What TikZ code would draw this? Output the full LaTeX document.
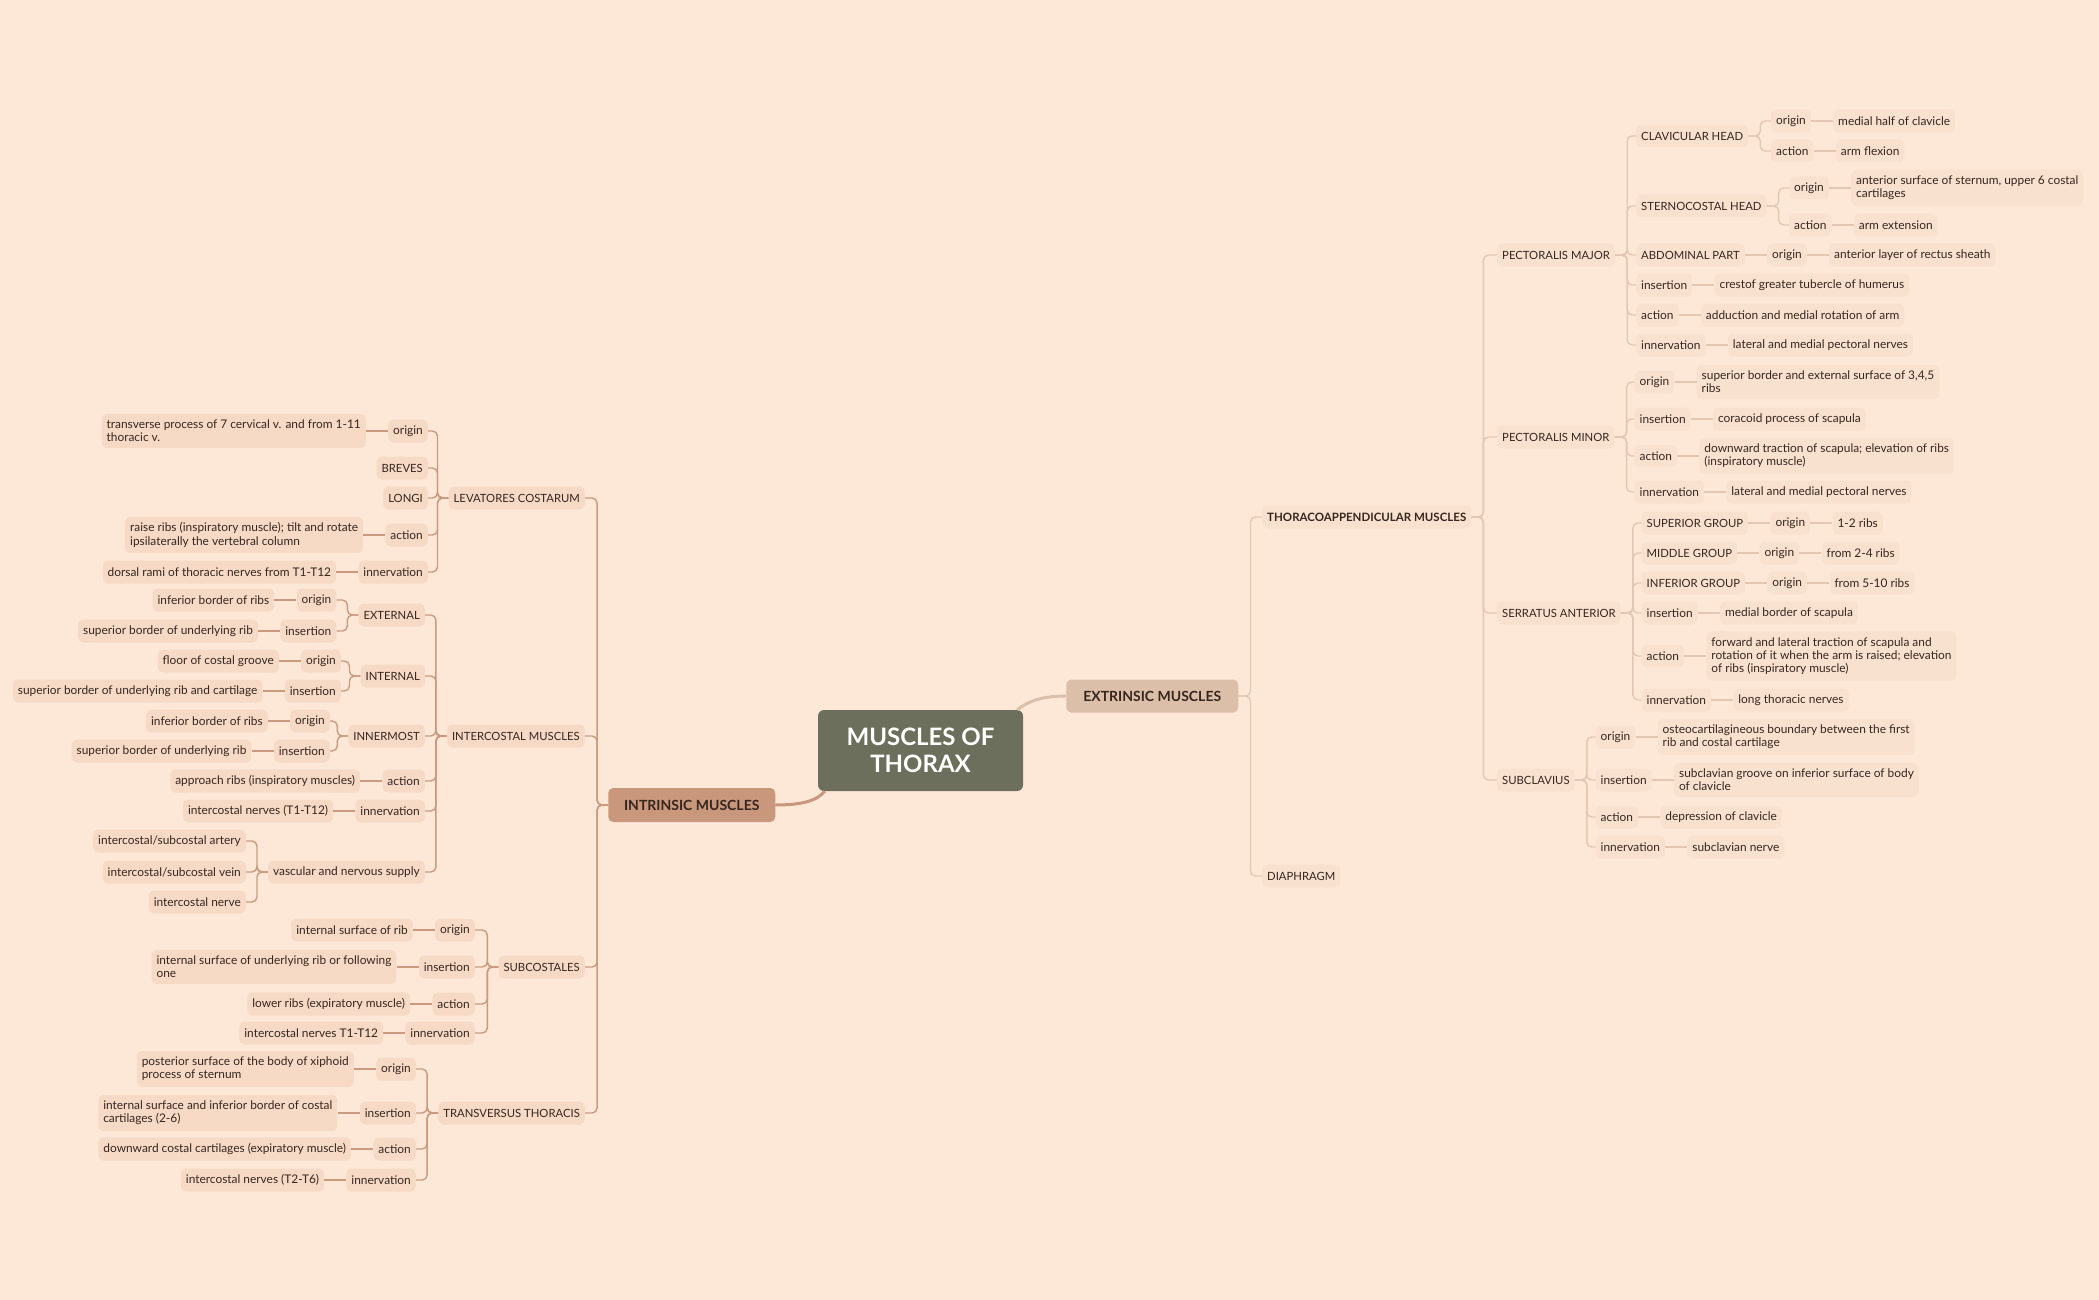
\documentclass[tikz,border=0pt]{standalone}
\usepackage{fontspec}
\setmainfont{Lato}
\usetikzlibrary{positioning}

\definecolor{bgpeach}{HTML}{FDE8D8}
\definecolor{lfill}{HTML}{F6DAC6}
\definecolor{rfill}{HTML}{F9E1D0}
\definecolor{lline}{HTML}{C99A7E}
\definecolor{rline}{HTML}{E3C7B3}
\definecolor{txt}{HTML}{36261E}
\definecolor{rootgreen}{HTML}{6B6F5B}
\definecolor{intrfill}{HTML}{C9987C}
\definecolor{extrfill}{HTML}{DCBFA9}

\tikzset{
  mmbox/.style={rounded corners=5pt, inner xsep=5pt, inner ysep=6pt, minimum height=23pt,
    align=left, text=txt, font=\fontsize{11.9}{13.2}\selectfont},
  lbox/.style={mmbox, fill=lfill},
  rbox/.style={mmbox, fill=rfill},
  caps/.style={font=\fontsize{11.3}{13.2}\selectfont},
  lbr/.style={draw=lline, line width=1.4pt, rounded corners=5pt,
    to path={-- ++(-11,0) |- (\tikztotarget)}},
  rbr/.style={draw=rline, line width=1.4pt, rounded corners=5pt,
    to path={-- ++(12,0) |- (\tikztotarget)}},
  lln/.style={draw=lline, line width=1.4pt},
  rln/.style={draw=rline, line width=1.4pt},
}

\begin{document}
\begin{tikzpicture}[x=1pt,y=-1pt]

  \useasboundingbox (0,0) rectangle (2099,1300);
  \fill[bgpeach] (0,0) rectangle (2099,1300);

  \node[fill=rootgreen, rounded corners=6pt, minimum width=205pt, minimum height=81pt,
    align=center, text=white, font=\bfseries\fontsize{24}{27.5}\selectfont]
    (thorax) at (920.5,750.5) {MUSCLES OF\\THORAX};
  \node[fill=intrfill, rounded corners=5pt, minimum width=167pt, minimum height=34pt,
    text=txt, font=\bfseries\fontsize{14}{16}\selectfont]
    (intr) at (691.75,805) {INTRINSIC MUSCLES};
  \node[fill=extrfill, rounded corners=5pt, minimum width=172pt, minimum height=33pt,
    text=txt, font=\bfseries\fontsize{14}{16}\selectfont]
    (extr) at (1152.25,696) {EXTRINSIC MUSCLES};
  \draw[intrfill, line width=3pt] ([xshift=7pt]thorax.south west)
    .. controls +(-8,10) and +(25,0) .. (intr.east);
  \draw[extrfill, line width=3pt] ([xshift=-6pt]thorax.north east)
    .. controls +(10,-8) and +(-25,0) .. (extr.west);

  \begin{scope}
  \node[lbox, caps, anchor=east] (lev) at (585,498) {LEVATORES COSTARUM};
  \node[lbox, caps, anchor=east] (ic) at (585,736) {INTERCOSTAL MUSCLES};
  \node[lbox, caps, anchor=east] (sub) at (585,967) {SUBCOSTALES};
  \node[lbox, caps, anchor=east] (tt) at (585,1113) {TRANSVERSUS THORACIS};
  \path (intr.west) edge[lbr] (lev.east) edge[lbr] (ic.east) edge[lbr] (sub.east) edge[lbr] (tt.east);

  \node[lbox, anchor=east] (lev-o) at (428,431) {origin};
  \node[lbox, caps, anchor=east] (lev-b) at (428,468) {BREVES};
  \node[lbox, caps, anchor=east] (lev-l) at (428,498) {LONGI};
  \node[lbox, anchor=east] (lev-a) at (428,535) {action};
  \node[lbox, anchor=east] (lev-n) at (428,572) {innervation};
  \node[lbox, left=22pt of lev-o] (lev-o-t) {transverse process of 7 cervical v. and from 1-11\\thoracic v.};
  \node[lbox, left=22pt of lev-a] (lev-a-t) {raise ribs (inspiratory muscle); tilt and rotate\\ipsilaterally the vertebral column};
  \node[lbox, left=22pt of lev-n] (lev-n-t) {dorsal rami of thoracic nerves from T1-T12};
  \path (lev.west) edge[lbr] (lev-o.east) edge[lbr] (lev-b.east) edge[lbr] (lev-l.east)
    edge[lbr] (lev-a.east) edge[lbr] (lev-n.east);
  \draw[lln] (lev-o) -- (lev-o-t) (lev-a) -- (lev-a-t) (lev-n) -- (lev-n-t);

  \node[lbox, caps, anchor=east] (ext) at (425,615) {EXTERNAL};
  \node[lbox, caps, anchor=east] (int) at (425,676) {INTERNAL};
  \node[lbox, caps, anchor=east] (inm) at (425,736) {INNERMOST};
  \node[lbox, anchor=east] (ic-a) at (425,781) {action};
  \node[lbox, anchor=east] (ic-n) at (425,811) {innervation};
  \node[lbox, anchor=east] (vns) at (425,872) {vascular and nervous supply};
  \node[lbox, left=22pt of ic-a] (ic-a-t) {approach ribs (inspiratory muscles)};
  \node[lbox, left=22pt of ic-n] (ic-n-t) {intercostal nerves (T1-T12)};
  \path (ic.west) edge[lbr] (ext.east) edge[lbr] (int.east) edge[lbr] (inm.east)
    edge[lbr] (ic-a.east) edge[lbr] (ic-n.east) edge[lbr] (vns.east);
  \draw[lln] (ic-a) -- (ic-a-t) (ic-n) -- (ic-n-t);

  \node[lbox, anchor=east] (ext-o) at (336.5,600) {origin};
  \node[lbox, anchor=east] (ext-i) at (336.5,631) {insertion};
  \node[lbox, left=22pt of ext-o] (ext-o-t) {inferior border of ribs};
  \node[lbox, left=22pt of ext-i] (ext-i-t) {superior border of underlying rib};
  \path (ext.west) edge[lbr] (ext-o.east) edge[lbr] (ext-i.east);
  \draw[lln] (ext-o) -- (ext-o-t) (ext-i) -- (ext-i-t);

  \node[lbox, anchor=east] (int-o) at (341,661) {origin};
  \node[lbox, anchor=east] (int-i) at (341,691) {insertion};
  \node[lbox, left=22pt of int-o] (int-o-t) {floor of costal groove};
  \node[lbox, left=22pt of int-i] (int-i-t) {superior border of underlying rib and cartilage};
  \path (int.west) edge[lbr] (int-o.east) edge[lbr] (int-i.east);
  \draw[lln] (int-o) -- (int-o-t) (int-i) -- (int-i-t);

  \node[lbox, anchor=east] (inm-o) at (330,721) {origin};
  \node[lbox, anchor=east] (inm-i) at (330,751) {insertion};
  \node[lbox, left=22pt of inm-o] (inm-o-t) {inferior border of ribs};
  \node[lbox, left=22pt of inm-i] (inm-i-t) {superior border of underlying rib};
  \path (inm.west) edge[lbr] (inm-o.east) edge[lbr] (inm-i.east);
  \draw[lln] (inm-o) -- (inm-o-t) (inm-i) -- (inm-i-t);

  \node[lbox, anchor=east] (vns-a) at (246,841) {intercostal/subcostal artery};
  \node[lbox, anchor=east] (vns-v) at (246,872) {intercostal/subcostal vein};
  \node[lbox, anchor=east] (vns-n) at (246,902) {intercostal nerve};
  \path (vns.west) edge[lbr] (vns-a.east) edge[lbr] (vns-v.east) edge[lbr] (vns-n.east);

  \node[lbox, anchor=east] (sub-o) at (475,930) {origin};
  \node[lbox, anchor=east] (sub-i) at (475,967) {insertion};
  \node[lbox, anchor=east] (sub-a) at (475,1004) {action};
  \node[lbox, anchor=east] (sub-n) at (475,1033) {innervation};
  \node[lbox, left=22pt of sub-o] (sub-o-t) {internal surface of rib};
  \node[lbox, left=22pt of sub-i] (sub-i-t) {internal surface of underlying rib or following\\one};
  \node[lbox, left=22pt of sub-a] (sub-a-t) {lower ribs (expiratory muscle)};
  \node[lbox, left=22pt of sub-n] (sub-n-t) {intercostal nerves T1-T12};
  \path (sub.west) edge[lbr] (sub-o.east) edge[lbr] (sub-i.east) edge[lbr] (sub-a.east) edge[lbr] (sub-n.east);
  \draw[lln] (sub-o) -- (sub-o-t) (sub-i) -- (sub-i-t) (sub-a) -- (sub-a-t) (sub-n) -- (sub-n-t);

  \node[lbox, anchor=east] (tt-o) at (416,1069) {origin};
  \node[lbox, anchor=east] (tt-i) at (416,1113) {insertion};
  \node[lbox, anchor=east] (tt-a) at (416,1149) {action};
  \node[lbox, anchor=east] (tt-n) at (416,1180) {innervation};
  \node[lbox, left=22pt of tt-o] (tt-o-t) {posterior surface of the body of xiphoid\\process of sternum};
  \node[lbox, left=22pt of tt-i] (tt-i-t) {internal surface and inferior border of costal\\cartilages (2-6)};
  \node[lbox, left=22pt of tt-a] (tt-a-t) {downward costal cartilages (expiratory muscle)};
  \node[lbox, left=22pt of tt-n] (tt-n-t) {intercostal nerves (T2-T6)};
  \path (tt.west) edge[lbr] (tt-o.east) edge[lbr] (tt-i.east) edge[lbr] (tt-a.east) edge[lbr] (tt-n.east);
  \draw[lln] (tt-o) -- (tt-o-t) (tt-i) -- (tt-i-t) (tt-a) -- (tt-a-t) (tt-n) -- (tt-n-t);
  \end{scope}

  \begin{scope}
  \node[rbox, anchor=west, font=\bfseries\fontsize{11.5}{13.2}\selectfont] (tha) at (1262,517) {THORACOAPPENDICULAR MUSCLES};
  \node[rbox, caps, anchor=west] (dia) at (1262,876) {DIAPHRAGM};
  \path (extr.east) edge[rbr] (tha.west) edge[rbr] (dia.west);

  \node[rbox, caps, anchor=west] (pma) at (1497,255) {PECTORALIS MAJOR};
  \node[rbox, caps, anchor=west] (pmi) at (1497,437) {PECTORALIS MINOR};
  \node[rbox, caps, anchor=west] (sa) at (1497,613) {SERRATUS ANTERIOR};
  \node[rbox, caps, anchor=west] (scl) at (1497,780) {SUBCLAVIUS};
  \path (tha.east) edge[rbr] (pma.west) edge[rbr] (pmi.west) edge[rbr] (sa.west) edge[rbr] (scl.west);

  \node[rbox, caps, anchor=west] (ch) at (1636,136) {CLAVICULAR HEAD};
  \node[rbox, caps, anchor=west] (sh) at (1636,206) {STERNOCOSTAL HEAD};
  \node[rbox, caps, anchor=west] (ab) at (1636,255) {ABDOMINAL PART};
  \node[rbox, anchor=west] (pma-i) at (1636,285) {insertion};
  \node[rbox, anchor=west] (pma-a) at (1636,315) {action};
  \node[rbox, anchor=west] (pma-n) at (1636,345) {innervation};
  \node[rbox, right=22pt of pma-i] (pma-i-t) {crestof greater tubercle of humerus};
  \node[rbox, right=22pt of pma-a] (pma-a-t) {adduction and medial rotation of arm};
  \node[rbox, right=22pt of pma-n] (pma-n-t) {lateral and medial pectoral nerves};
  \path (pma.east) edge[rbr] (ch.west) edge[rbr] (sh.west) edge[rbr] (ab.west)
    edge[rbr] (pma-i.west) edge[rbr] (pma-a.west) edge[rbr] (pma-n.west);
  \draw[rln] (pma-i) -- (pma-i-t) (pma-a) -- (pma-a-t) (pma-n) -- (pma-n-t);

  \node[rbox, anchor=west] (ch-o) at (1771,121) {origin};
  \node[rbox, anchor=west] (ch-a) at (1771,151) {action};
  \node[rbox, right=22pt of ch-o] (ch-o-t) {medial half of clavicle};
  \node[rbox, right=22pt of ch-a] (ch-a-t) {arm flexion};
  \path (ch.east) edge[rbr] (ch-o.west) edge[rbr] (ch-a.west);
  \draw[rln] (ch-o) -- (ch-o-t) (ch-a) -- (ch-a-t);

  \node[rbox, anchor=west] (sh-o) at (1789,188) {origin};
  \node[rbox, anchor=west] (sh-a) at (1789,225) {action};
  \node[rbox, right=22pt of sh-o] (sh-o-t) {anterior surface of sternum, upper 6 costal\\cartilages};
  \node[rbox, right=22pt of sh-a] (sh-a-t) {arm extension};
  \path (sh.east) edge[rbr] (sh-o.west) edge[rbr] (sh-a.west);
  \draw[rln] (sh-o) -- (sh-o-t) (sh-a) -- (sh-a-t);

  \node[rbox, right=22pt of ab] (ab-o) {origin};
  \node[rbox, right=22pt of ab-o] (ab-o-t) {anterior layer of rectus sheath};
  \draw[rln] (ab) -- (ab-o) (ab-o) -- (ab-o-t);

  \node[rbox, anchor=west] (pmi-o) at (1634.5,382) {origin};
  \node[rbox, anchor=west] (pmi-i) at (1634.5,419) {insertion};
  \node[rbox, anchor=west] (pmi-a) at (1634.5,456) {action};
  \node[rbox, anchor=west] (pmi-n) at (1634.5,492) {innervation};
  \node[rbox, right=22pt of pmi-o] (pmi-o-t) {superior border and external surface of 3,4,5\\ribs};
  \node[rbox, right=22pt of pmi-i] (pmi-i-t) {coracoid process of scapula};
  \node[rbox, right=22pt of pmi-a] (pmi-a-t) {downward traction of scapula; elevation of ribs\\(inspiratory muscle)};
  \node[rbox, right=22pt of pmi-n] (pmi-n-t) {lateral and medial pectoral nerves};
  \path (pmi.east) edge[rbr] (pmi-o.west) edge[rbr] (pmi-i.west) edge[rbr] (pmi-a.west) edge[rbr] (pmi-n.west);
  \draw[rln] (pmi-o) -- (pmi-o-t) (pmi-i) -- (pmi-i-t) (pmi-a) -- (pmi-a-t) (pmi-n) -- (pmi-n-t);

  \node[rbox, caps, anchor=west] (sg) at (1641.5,523) {SUPERIOR GROUP};
  \node[rbox, caps, anchor=west] (mg) at (1641.5,553) {MIDDLE GROUP};
  \node[rbox, caps, anchor=west] (ig) at (1641.5,583) {INFERIOR GROUP};
  \node[rbox, anchor=west] (sa-i) at (1641.5,613) {insertion};
  \node[rbox, anchor=west] (sa-a) at (1641.5,656) {action};
  \node[rbox, anchor=west] (sa-n) at (1641.5,700) {innervation};
  \node[rbox, right=22pt of sg] (sg-o) {origin};
  \node[rbox, right=22pt of sg-o] (sg-o-t) {1-2 ribs};
  \node[rbox, right=22pt of mg] (mg-o) {origin};
  \node[rbox, right=22pt of mg-o] (mg-o-t) {from 2-4 ribs};
  \node[rbox, right=22pt of ig] (ig-o) {origin};
  \node[rbox, right=22pt of ig-o] (ig-o-t) {from 5-10 ribs};
  \node[rbox, right=22pt of sa-i] (sa-i-t) {medial border of scapula};
  \node[rbox, right=22pt of sa-a] (sa-a-t) {forward and lateral traction of scapula and\\rotation of it when the arm is raised; elevation\\of ribs (inspiratory muscle)};
  \node[rbox, right=22pt of sa-n] (sa-n-t) {long thoracic nerves};
  \path (sa.east) edge[rbr] (sg.west) edge[rbr] (mg.west) edge[rbr] (ig.west)
    edge[rbr] (sa-i.west) edge[rbr] (sa-a.west) edge[rbr] (sa-n.west);
  \draw[rln] (sg) -- (sg-o) -- (sg-o-t) (mg) -- (mg-o) -- (mg-o-t) (ig) -- (ig-o) -- (ig-o-t)
    (sa-i) -- (sa-i-t) (sa-a) -- (sa-a-t) (sa-n) -- (sa-n-t);

  \node[rbox, anchor=west] (scl-o) at (1595.5,737) {origin};
  \node[rbox, anchor=west] (scl-i) at (1595.5,780) {insertion};
  \node[rbox, anchor=west] (scl-a) at (1595.5,817) {action};
  \node[rbox, anchor=west] (scl-n) at (1595.5,847) {innervation};
  \node[rbox, right=22pt of scl-o] (scl-o-t) {osteocartilagineous boundary between the first\\rib and costal cartilage};
  \node[rbox, right=22pt of scl-i] (scl-i-t) {subclavian groove on inferior surface of body\\of clavicle};
  \node[rbox, right=22pt of scl-a] (scl-a-t) {depression of clavicle};
  \node[rbox, right=22pt of scl-n] (scl-n-t) {subclavian nerve};
  \path (scl.east) edge[rbr] (scl-o.west) edge[rbr] (scl-i.west) edge[rbr] (scl-a.west) edge[rbr] (scl-n.west);
  \draw[rln] (scl-o) -- (scl-o-t) (scl-i) -- (scl-i-t) (scl-a) -- (scl-a-t) (scl-n) -- (scl-n-t);
  \end{scope}

\end{tikzpicture}
\end{document}
